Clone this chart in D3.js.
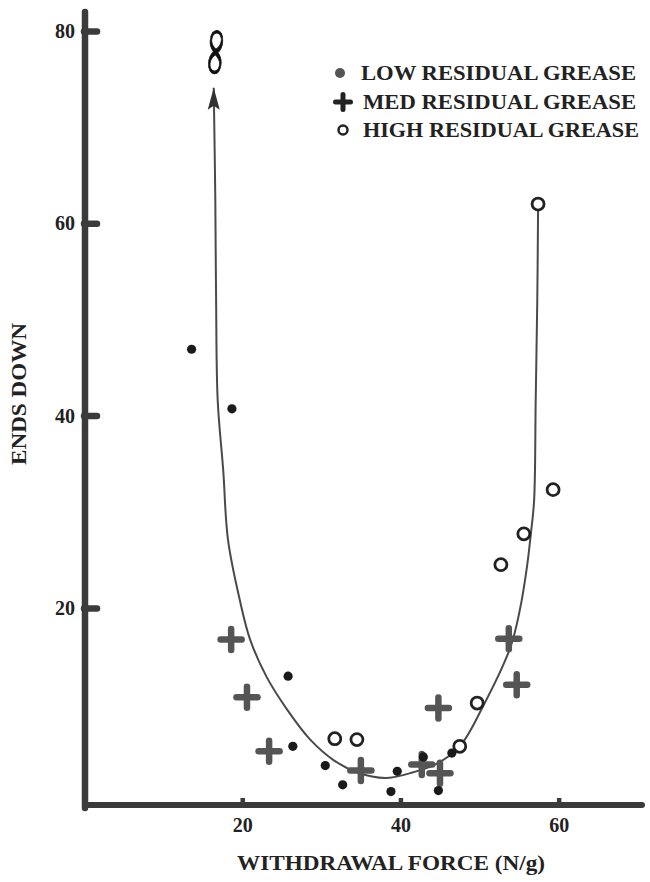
<!DOCTYPE html>
<html>
<head>
<meta charset="utf-8">
<script src="https://cdn.jsdelivr.net/npm/d3@7"></script>
<style>
html,body{margin:0;padding:0;background:#fff;}
svg{display:block;}
text{font-family:"Liberation Serif","Times New Roman",serif;font-weight:bold;fill:#222;}
</style>
</head>
<body>
<svg id="chart" width="650" height="882"></svg>
<script>
// ---- data ----
const xTicks = [20, 40, 60];
const yTicks = [20, 40, 60, 80];
const xTitle = "WITHDRAWAL FORCE (N/g)";
const yTitle = "ENDS DOWN";
const seriesNames = ["LOW RESIDUAL GREASE", "MED RESIDUAL GREASE", "HIGH RESIDUAL GREASE"];

const lowX  = [13.6, 18.7, 25.8, 26.4, 30.5, 32.7, 38.8, 44.8, 39.6, 46.5, 42.9];
const lowY  = [46.9, 40.7, 12.9, 5.6, 3.6, 1.6, 0.9, 1.0, 3.0, 4.9, 4.5];

const medX  = [18.6, 20.6, 23.4, 35.0, 42.7, 45.0, 44.8, 53.7, 54.7];
const medY  = [16.7, 10.7, 5.1, 3.1, 3.7, 2.8, 9.6, 16.8, 12.0];

const highX = [31.7, 34.5, 47.5, 49.7, 52.7, 55.6, 59.3, 57.4];
const highY = [6.4, 6.3, 5.6, 10.1, 24.5, 27.7, 32.3, 62.0];

// hand-drawn fitted curve (left branch rises to an arrow marked infinity)
const curveX = [16.4, 16.6, 16.7, 16.9, 17.6, 18.2, 19.7, 21.0, 23.1, 25.7, 28.6, 31.5, 34.5, 38.1, 41.6, 44.6, 47.5, 50.4, 53.9, 55.1, 56.0, 56.5, 56.9, 57.1, 57.3, 57.4];
const curveY = [74.1, 62.4, 52.0, 41.6, 34.3, 27.1, 20.8, 16.7, 12.8, 9.4, 6.3, 4.2, 2.9, 2.3, 2.9, 3.8, 5.6, 9.7, 15.9, 19.8, 24.3, 27.8, 31.2, 41.6, 52.0, 61.4];
const infinityAt = [16.7, 77.8];

// ---- layout ----
const svg = d3.select("#chart");
const x = d3.scaleLinear().domain([0, 70.5]).range([84, 641.7]);
const y = d3.scaleLinear().domain([-0.5, 80]).range([805, 31]);

const axisColor = "#3b3b3b";

// curve
const curvePts = curveX.map((v, i) => [v, curveY[i]]);
svg.append("path")
  .datum(curvePts)
  .attr("fill", "none")
  .attr("stroke", "#4a4a4a")
  .attr("stroke-width", 2)
  .attr("d", d3.line().x(d => x(d[0])).y(d => y(d[1])).curve(d3.curveCatmullRom.alpha(0.5)));

// arrow head at the top of the left branch
const tip = curvePts[0];
svg.append("path")
  .attr("transform", `translate(${x(tip[0])},${y(tip[1])})`)
  .attr("d", "M0,0 L6,22 L0,18 L-6,22 Z")
  .attr("fill", "#333");

// infinity sign (drawn upright, like a tall narrow 8)
svg.append("text")
  .attr("transform", `translate(${x(infinityAt[0])},${y(infinityAt[1])}) rotate(94) scale(1,0.5)`)
  .attr("text-anchor", "middle")
  .attr("dy", "0.3em")
  .style("font-weight", "normal")
  .style("font-size", "68px")
  .style("fill", "#111")
  .style("stroke", "#111")
  .style("stroke-width", "1.2px")
  .text("∞");

// axes (d3 axes, custom styled)
const yAxis = d3.axisLeft(y).tickValues(yTicks).tickSizeInner(-13).tickSizeOuter(0).tickPadding(9);
const gy = svg.append("g").attr("transform", `translate(${x(0)},0)`).call(yAxis);
gy.select(".domain").remove();
gy.selectAll(".tick line").attr("stroke", axisColor).attr("stroke-width", 6.5).attr("stroke-linecap", "round");
gy.selectAll(".tick text").style("font-size", "20px").style("font-family", '"Liberation Serif",serif').style("font-weight", "bold").attr("fill", "#222");

const xAxis = d3.axisBottom(x).tickValues(xTicks).tickSizeInner(-7).tickSizeOuter(0).tickPadding(13);
const gx = svg.append("g").attr("transform", `translate(0,${y(-0.5)})`).call(xAxis);
gx.select(".domain").remove();
gx.selectAll(".tick line").attr("stroke", axisColor).attr("stroke-width", 4.5);
gx.selectAll(".tick text").style("font-size", "20px").style("font-family", '"Liberation Serif",serif').style("font-weight", "bold").attr("fill", "#222");

// axis lines
svg.append("line").attr("x1", x(0) + 1).attr("x2", x(0) + 1).attr("y1", 12).attr("y2", y(-0.5) + 3)
  .attr("stroke", axisColor).attr("stroke-width", 6.5).attr("stroke-linecap", "round");
svg.append("line").attr("x1", x(0) + 1).attr("x2", 642).attr("y1", y(-0.5)).attr("y2", y(-0.5))
  .attr("stroke", axisColor).attr("stroke-width", 6).attr("stroke-linecap", "round");

// markers
function plus(g, cx, cy, half, w, color) {
  g.append("line").attr("x1", cx - half).attr("x2", cx + half).attr("y1", cy).attr("y2", cy)
    .attr("stroke", color).attr("stroke-width", w).attr("stroke-linecap", "round");
  g.append("line").attr("x1", cx).attr("x2", cx).attr("y1", cy - half).attr("y2", cy + half)
    .attr("stroke", color).attr("stroke-width", w).attr("stroke-linecap", "round");
}

const gMed = svg.append("g");
medX.forEach((v, i) => plus(gMed, x(v), y(medY[i]), 10.5, 6.5, "#555"));

svg.append("g").selectAll("circle").data(highX.map((v, i) => [v, highY[i]])).join("circle")
  .attr("cx", d => x(d[0])).attr("cy", d => y(d[1])).attr("r", 6)
  .attr("fill", "#fff").attr("stroke", "#222").attr("stroke-width", 2.8);

svg.append("g").selectAll("circle").data(lowX.map((v, i) => [v, lowY[i]])).join("circle")
  .attr("cx", d => x(d[0])).attr("cy", d => y(d[1])).attr("r", 4.6)
  .attr("fill", "#1a1a1a");

// legend
const leg = svg.append("g");
leg.append("circle").attr("cx", 340).attr("cy", 73).attr("r", 5).attr("fill", "#555");
plus(leg, 343, 102, 7.5, 5, "#222");
leg.append("circle").attr("cx", 343).attr("cy", 130).attr("r", 4.5).attr("fill", "none").attr("stroke", "#222").attr("stroke-width", 2.5);
const legX = [361, 363, 363];
const legY = [80, 109, 137];
const legW = [275, 273, 276];
seriesNames.forEach((s, i) => {
  leg.append("text").attr("x", legX[i]).attr("y", legY[i])
    .attr("textLength", legW[i]).attr("lengthAdjust", "spacingAndGlyphs")
    .style("font-size", "20px").text(s);
});

// titles
svg.append("text").attr("x", 391).attr("y", 870).attr("text-anchor", "middle")
  .attr("textLength", 308).attr("lengthAdjust", "spacingAndGlyphs")
  .style("font-size", "20px").text(xTitle);
svg.append("text").attr("transform", "translate(26,394) rotate(-90)").attr("text-anchor", "middle")
  .attr("textLength", 142).attr("lengthAdjust", "spacingAndGlyphs")
  .style("font-size", "20px").text(yTitle);
</script>
</body>
</html>
